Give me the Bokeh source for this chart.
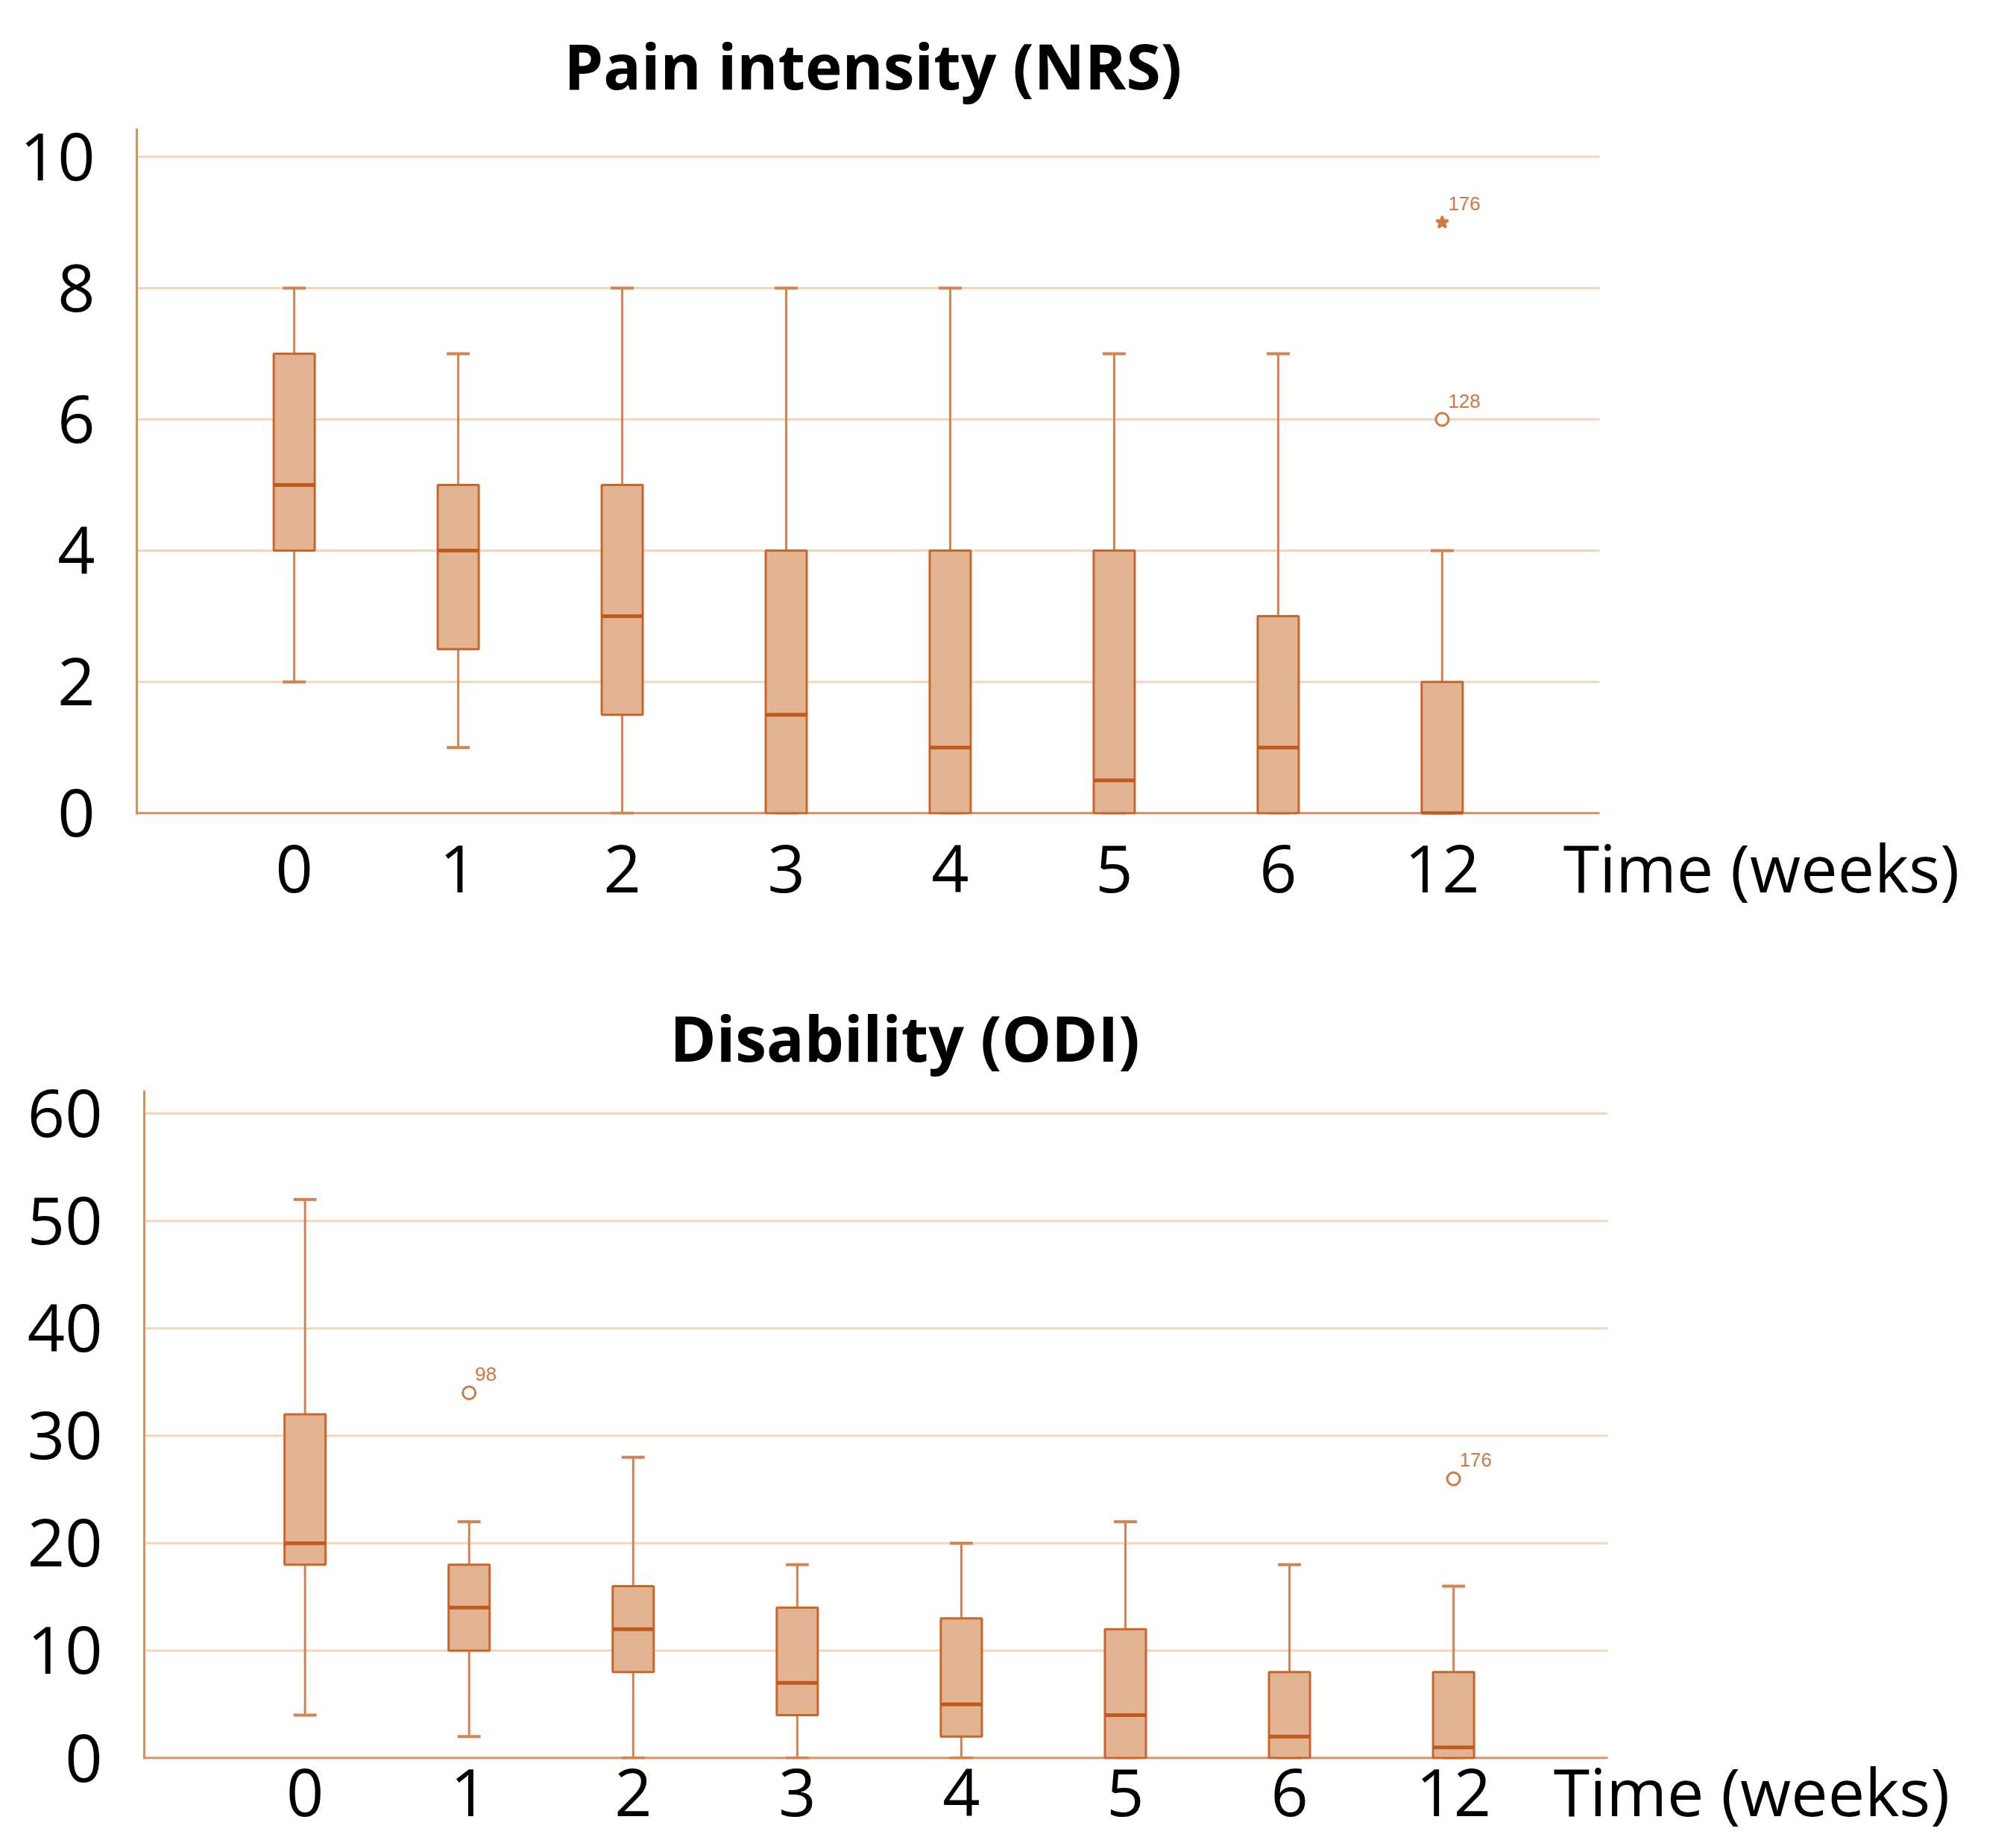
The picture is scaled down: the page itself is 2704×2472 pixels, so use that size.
import numpy as np
from bokeh.plotting import figure
from bokeh.models import Range1d, FixedTicker, ColumnDataSource, Spacer
from bokeh.layouts import column, row
from bokeh.embed import file_html
from bokeh.resources import INLINE
from bokeh.core.properties import value

# ---------------- data ----------------
weeks = ["0", "1", "2", "3", "4", "5", "6", "12"]
x_title = "Time (weeks)"

nrs_low = [2, 1, 0, 0, 0, 0, 0, 0]
nrs_q1 = [4, 2.5, 1.5, 0, 0, 0, 0, 0]
nrs_med = [5, 4, 3, 1.5, 1, 0.5, 1, 0]
nrs_q3 = [7, 5, 5, 4, 4, 4, 3, 2]
nrs_high = [8, 7, 8, 8, 8, 7, 7, 4]
nrs_out_week = ["12", "12"]
nrs_out_val = [6, 9]
nrs_out_id = ["128", "176"]
nrs_out_marker = ["circle", "star"]
nrs_ticks = [0, 2, 4, 6, 8, 10]

odi_low = [4, 2, 0, 0, 0, 0, 0, 0]
odi_q1 = [18, 10, 8, 4, 2, 0, 0, 0]
odi_med = [20, 14, 12, 7, 5, 4, 2, 1]
odi_q3 = [32, 18, 16, 14, 13, 12, 8, 8]
odi_high = [52, 22, 28, 18, 20, 22, 18, 16]
odi_out_week = ["1", "12"]
odi_out_val = [34, 26]
odi_out_id = ["98", "176"]
odi_out_marker = ["circle", "circle"]
odi_ticks = [0, 10, 20, 30, 40, 50, 60]

# ---------------- style ----------------
FILL = "#E3B492"
EDGE = "#C9662B"
WHISK = "#D4824F"
MED = "#BF5A1C"
GRID = "#F3D5C0"
AXIS = "#D9915F"
OUT = "#CF7A45"
FONT = "Open Sans"


def panel(title, low, q1, med, q3, high, out_week, out_val, out_id, out_marker,
          ticks, ystart, ytop, width, height, bl, bt, bb, br, xleft, xgrid_end, xright,
          xlab_pos, title_standoff, title_offset, label_standoff):
    idx = np.arange(len(weeks))
    p = figure(width=width, height=height, output_backend="svg", toolbar_location=None,
               x_range=Range1d(xleft, xright), y_range=Range1d(ystart, ytop),
               min_border_left=bl, min_border_top=bt, min_border_bottom=bb,
               min_border_right=br)
    p.outline_line_color = None
    p.background_fill_color = "white"
    p.border_fill_color = "white"

    p.title.text = title
    p.title.text_font = FONT
    p.title.text_font_style = "bold"
    p.title.text_font_size = "84px"
    p.title.align = "left"
    p.title.text_color = "black"
    p.title.standoff = title_standoff
    p.title.offset = title_offset

    p.xgrid.grid_line_color = None
    p.ygrid.grid_line_color = None

    xt = list(map(float, idx)) + [xlab_pos]
    p.xaxis.ticker = FixedTicker(ticks=xt)
    ov = {float(i): w for i, w in zip(idx, weeks)}
    ov[xlab_pos] = x_title
    p.xaxis.major_label_overrides = ov
    p.xaxis.axis_line_color = None
    p.yaxis.ticker = FixedTicker(ticks=ticks)
    p.yaxis.axis_line_color = AXIS
    p.yaxis.axis_line_width = 3
    for ax in (p.xaxis, p.yaxis):
        ax.major_tick_line_color = None
        ax.minor_tick_line_color = None
        ax.major_label_text_font = FONT
        ax.major_label_text_font_size = "88px"
        ax.major_label_text_color = "black"
    p.xaxis.major_label_standoff = label_standoff
    p.yaxis.major_label_standoff = 50

    # horizontal grid lines (at the y tick values) limited to the plotting area
    gsrc = ColumnDataSource(dict(y=ticks, x0=[xleft] * len(ticks), x1=[xgrid_end] * len(ticks)))
    p.segment(x0="x0", y0="y", x1="x1", y1="y", source=gsrc, line_color=GRID, line_width=3)
    # x axis base line
    p.segment(x0=[xleft], y0=[0], x1=[xgrid_end], y1=[0], line_color=AXIS, line_width=3)

    src = ColumnDataSource(dict(x=idx, low=low, q1=q1, med=med, q3=q3, high=high,
                                xl=idx - 0.125, xr=idx + 0.125,
                                cl=idx - 0.07, cr=idx + 0.07))
    # whiskers
    p.segment(x0="x", y0="low", x1="x", y1="q1", source=src, line_color=WHISK, line_width=3)
    p.segment(x0="x", y0="q3", x1="x", y1="high", source=src, line_color=WHISK, line_width=3)
    p.segment(x0="cl", y0="low", x1="cr", y1="low", source=src, line_color=WHISK, line_width=4)
    p.segment(x0="cl", y0="high", x1="cr", y1="high", source=src, line_color=WHISK, line_width=4)
    # boxes
    p.vbar(x="x", width=0.25, bottom="q1", top="q3", source=src,
           fill_color=FILL, line_color=EDGE, line_width=3)
    # medians
    p.segment(x0="xl", y0="med", x1="xr", y1="med", source=src, line_color=MED, line_width=5)

    # outliers
    ox = [weeks.index(w) for w in out_week]
    fills = [OUT if m == "star" else "white" for m in out_marker]
    osrc = ColumnDataSource(dict(x=ox, y=out_val, t=out_id, m=out_marker, f=fills))
    p.scatter(x="x", y="y", marker="m", source=osrc, size=17, line_color=OUT,
              line_width=3, fill_color="f")
    p.text(x="x", y="y", text="t", source=osrc, x_offset=8, y_offset=-16,
           text_font=value("Liberation Sans"), text_font_size="26px",
           text_color=OUT, text_baseline="bottom", text_align="left")
    return p


top = panel("Pain intensity (NRS)", nrs_low, nrs_q1, nrs_med, nrs_q3, nrs_high,
            nrs_out_week, nrs_out_val, nrs_out_id, nrs_out_marker,
            nrs_ticks, -0.02, 10.43, 2688, 1276, 183, 172, 184, 10,
            -0.96, 7.96, 10.383, 8.946, 55, 573, 4)
bot = panel("Disability (ODI)", odi_low, odi_q1, odi_med, odi_q3, odi_high,
            odi_out_week, odi_out_val, odi_out_id, odi_out_marker,
            odi_ticks, -0.1, 62.16, 2678, 1188, 183, 186, 100, 10,
            -0.98, 7.94, 10.312, 8.817, 28, 705, -24)

layout = column(top, row(Spacer(width=10, height=1188), bot))
open("out.html", "w").write(file_html(layout, INLINE))
